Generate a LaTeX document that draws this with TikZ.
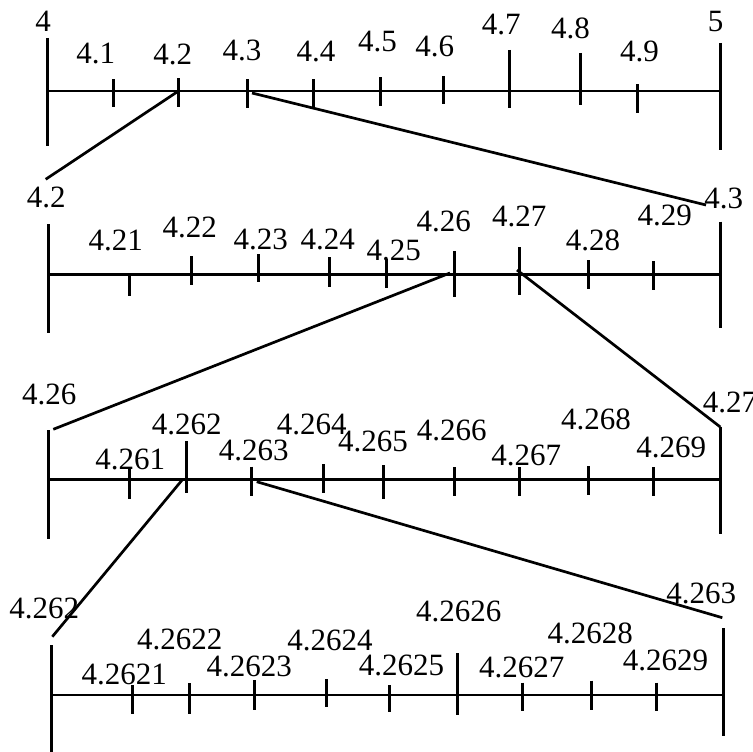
\documentclass[tikz,border=0pt]{standalone}
\usepackage{fontspec}
\setmainfont{Liberation Serif}
\begin{document}
\begin{tikzpicture}[x=1bp,y=-1bp,line width=3bp,
  lbl/.style={inner sep=0pt,anchor=base,font=\fontsize{31bp}{34bp}\selectfont},
  axisline/.style={line width=2.7bp},
  conn/.style={line width=2.7bp}]
\useasboundingbox (0,0) rectangle (753,752);
% ---------- row 1 ----------
\coordinate (r1l) at (47,91); \coordinate (r1r) at (720,91);
\draw[axisline] (r1l) -- (r1r);
\draw (47,38) -- (47,146);
\draw (720,43) -- (720,150);
\foreach \x/\a/\b in {113.7/79/107,178.7/78/107,247.3/79/108,313.3/79/108,380/77/106,443.3/76/104,509.3/50/108,580.3/53/105,637.3/84/113}
  \draw (\x,\a) -- (\x,\b);
\coordinate (t42) at (177,92); \coordinate (t43) at (252,93);
\node[lbl] (l4) at (43,32) {4};
\node[lbl] (l41) at (95.8,63.3) {4.1};
\node[lbl] (l42) at (172.8,65) {4.2};
\node[lbl] (l43) at (242,60.7) {4.3};
\node[lbl] (l44) at (316,61.7) {4.4};
\node[lbl] (l45) at (377.5,51.7) {4.5};
\node[lbl] (l46) at (434.8,56.7) {4.6};
\node[lbl] (l47) at (501.3,35) {4.7};
\node[lbl] (l48) at (570.5,38.3) {4.8};
\node[lbl] (l49) at (639.5,61.7) {4.9};
\node[lbl] (l5) at (715.7,31.7) {5};
% ---------- row 2 ----------
\draw[axisline] (48.7,274.3) -- (720.3,274.3);
\draw (48.7,224.3) -- (48.7,332.7);
\draw (720.3,221.7) -- (720.3,328.3);
\foreach \x/\a/\b in {129.3/276/296,191.3/256/285,258.3/254/282,329.3/257.3/286.7,386.3/259/288.3,454/251/297.3,519.7/247.3/295,588.7/260/289,653.7/261/290}
  \draw (\x,\a) -- (\x,\b);
\coordinate (s42) at (45.7,179.3);
\coordinate (s43) at (706,205);
\draw[conn] (t42) -- (s42);
\draw[conn] (t43) -- (s43);
\coordinate (t426) at (450,273); \coordinate (t427) at (517,270);
\node[lbl] (m42) at (46.2,207.3) {4.2};
\node[lbl] (m421) at (115.8,250.7) {4.21};
\node[lbl] (m422) at (189.7,237.3) {4.22};
\node[lbl] (m423) at (260.8,249) {4.23};
\node[lbl] (m424) at (327.7,249) {4.24};
\node[lbl] (m425) at (393.7,260) {4.25};
\node[lbl] (m426) at (443.8,231.7) {4.26};
\node[lbl] (m427) at (519.3,226.7) {4.27};
\node[lbl] (m428) at (593,250.7) {4.28};
\node[lbl] (m429) at (664.7,225) {4.29};
\node[lbl] (m43) at (723.8,208.3) {4.3};
% ---------- row 3 ----------
\draw[axisline] (48.7,479.3) -- (720.3,479.3);
\draw (48.7,430) -- (48.7,539);
\draw (720.3,426.7) -- (720.3,534.3);
\foreach \x/\a/\b in {129.3/469.3/499,186.7/441/493.3,251/466.7/496,323.3/464.3/492.7,383.7/465/499.3,454.7/467.3/496,519.7/467/496,588.7/466/495,653.7/467/496}
  \draw (\x,\a) -- (\x,\b);
\coordinate (s426) at (53.3,429.3);
\coordinate (s427) at (720.3,427);
\draw[conn] (t426) -- (s426);
\draw[conn] (t427) -- (s427);
\coordinate (t4262) at (182.7,479.3); \coordinate (t4263) at (256.7,481.7);
\node[lbl] (n426) at (49.2,404) {4.26};
\node[lbl] (n4261) at (130.3,469.3) {4.261};
\node[lbl] (n4262) at (186.7,434) {4.262};
\node[lbl] (n4263) at (253.7,460.7) {4.263};
\node[lbl] (n4264) at (311.7,434) {4.264};
\node[lbl] (n4265) at (373,451.7) {4.265};
\node[lbl] (n4266) at (451.7,440.7) {4.266};
\node[lbl] (n4267) at (526.3,465) {4.267};
\node[lbl] (n4268) at (596,429) {4.268};
\node[lbl] (n4269) at (671.3,457.3) {4.269};
\node[lbl,anchor=base west] (n427) at (701.3,412.3) {4.27};
% ---------- row 4 ----------
\draw[axisline] (51.7,695) -- (723,695);
\draw (51.7,645) -- (51.7,751.7);
\draw (723,628.3) -- (723,735.7);
\foreach \x/\a/\b in {132.7/685/714,189.3/683.3/714,254.3/680/710,326/679/707.3,389.7/685/711.7,457/653.3/715,522.3/682.7/710.7,591.3/680.7/710,656.3/682.7/710.7}
  \draw (\x,\a) -- (\x,\b);
\coordinate (s4262) at (52.3,636.7);
\coordinate (s4263) at (722.3,617.7);
\draw[conn] (t4262) -- (s4262);
\draw[conn] (t4263) -- (s4263);
\node[lbl] (o4262) at (44.2,618.3) {4.262};
\node[lbl] (o1) at (124.2,684.3) {4.2621};
\node[lbl] (o2) at (179.7,649) {4.2622};
\node[lbl] (o3) at (249.2,676) {4.2623};
\node[lbl] (o4) at (330,650) {4.2624};
\node[lbl] (o5) at (401.5,675) {4.2625};
\node[lbl] (o6) at (458.8,621.7) {4.2626};
\node[lbl] (o7) at (521.8,677.7) {4.2627};
\node[lbl] (o8) at (590.2,643.3) {4.2628};
\node[lbl] (o9) at (665.5,670) {4.2629};
\node[lbl] (o4263) at (701.3,603.3) {4.263};
\end{tikzpicture}
\end{document}
